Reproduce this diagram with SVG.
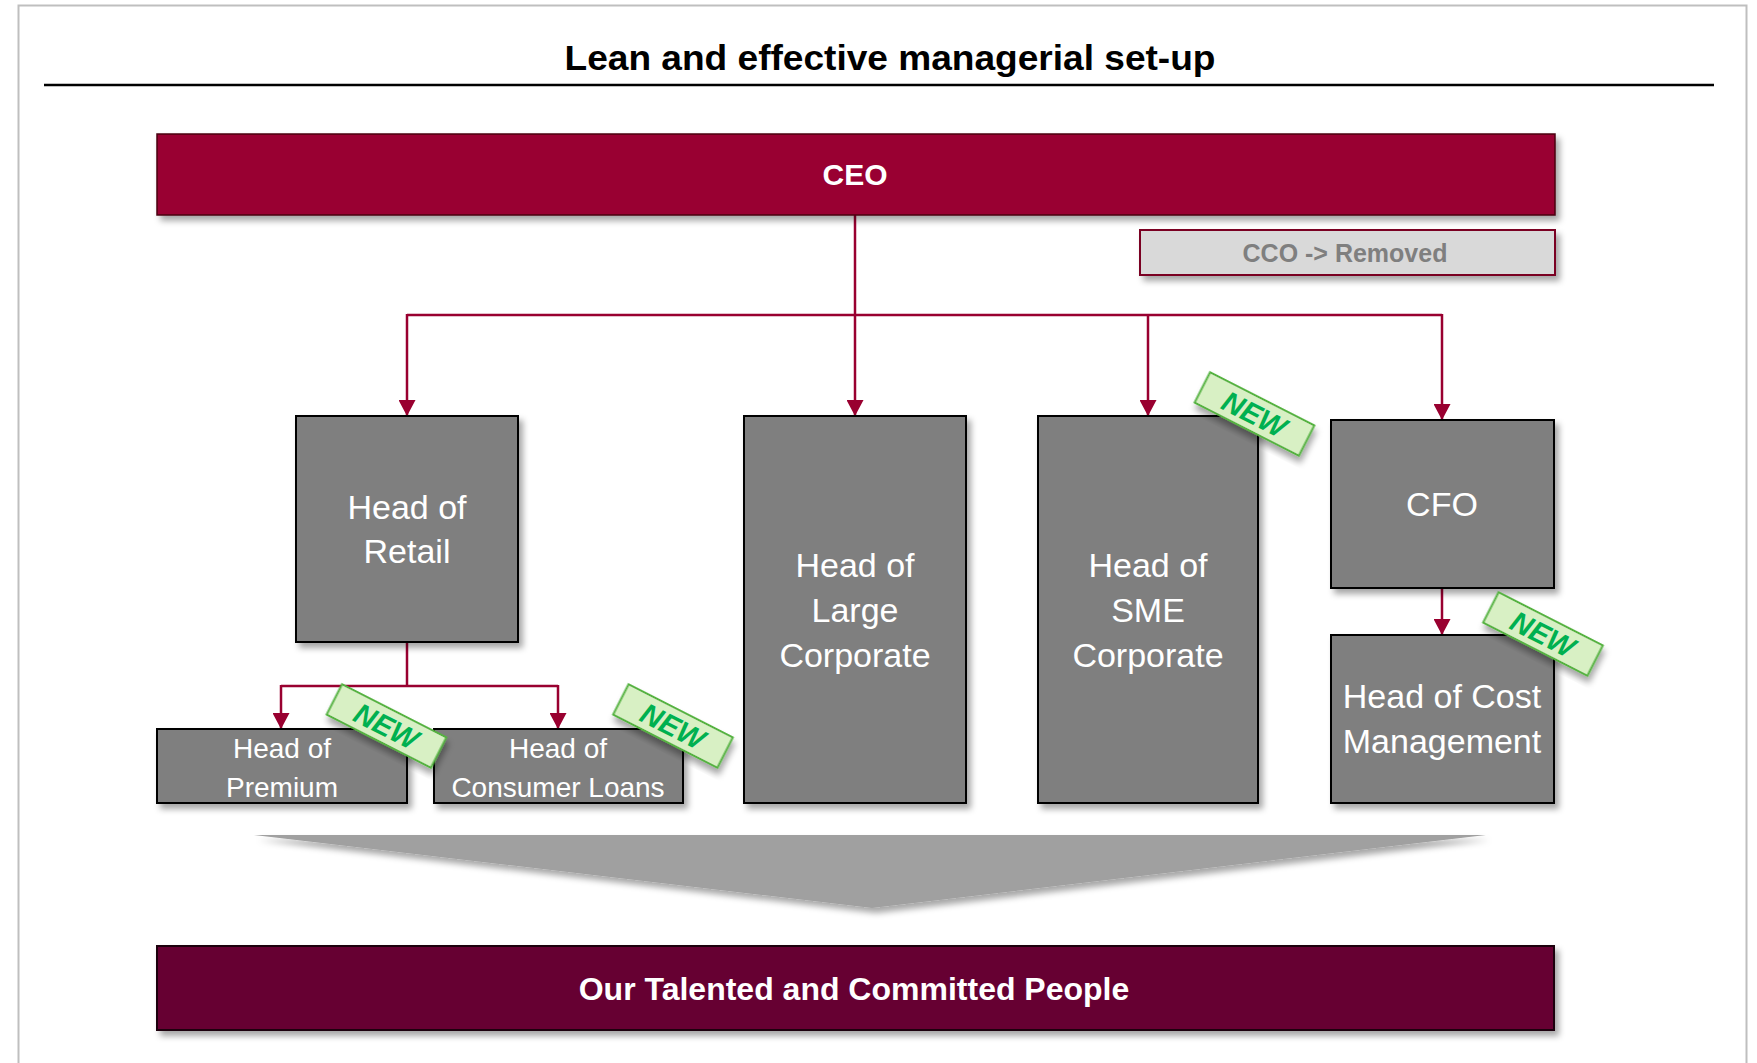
<svg xmlns="http://www.w3.org/2000/svg" width="1757" height="1063" viewBox="0 0 1757 1063">
  <defs>
    <filter id="shadow" x="-10%" y="-10%" width="130%" height="140%">
      <feDropShadow dx="4" dy="5" stdDeviation="3" flood-color="#000" flood-opacity="0.35"/>
    </filter>
    <marker id="arrow" markerUnits="userSpaceOnUse" markerWidth="17" markerHeight="17" refX="16" refY="8.5" orient="auto">
      <path d="M0,0 L16,8.5 L0,17 z" fill="#990030"/>
    </marker>
    <style>
      .title { font-family: "Liberation Sans", Arial, sans-serif; font-weight: bold; font-size: 35px; fill: #000; }
      .box { fill: #7f7f7f; stroke: #000; stroke-width: 2; filter: url(#shadow); }
      .lbl { font-family: "Liberation Sans", Arial, sans-serif; font-size: 34px; fill: #fff; text-anchor: middle; }
      .lbl-s { font-family: "Liberation Sans", Arial, sans-serif; font-size: 28px; fill: #fff; text-anchor: middle; }
      .conn { fill: none; stroke: #990030; stroke-width: 2.5; }
      .tag rect { fill: #d8f0c4; stroke: #55b240; stroke-width: 2; filter: url(#shadow); }
      .tag text { font-family: "Liberation Sans", Arial, sans-serif; font-weight: bold; font-style: italic; font-size: 29px; fill: #00b050; text-anchor: middle; }
    </style>
  </defs>

  <rect x="0" y="0" width="1757" height="1063" fill="#fff"/>
  <path d="M18.5,1063 V5.5 H1746.5 V1063" fill="none" stroke="#bfbfbf" stroke-width="2"/>

  <g id="title">
    <text class="title" x="890" y="70" text-anchor="middle" textLength="651" lengthAdjust="spacingAndGlyphs">Lean and effective managerial set-up</text>
    <line x1="44" y1="85" x2="1714" y2="85" stroke="#000" stroke-width="2.5"/>
  </g>

  <g id="connectors">
    <line class="conn" x1="855" y1="215" x2="855" y2="416" marker-end="url(#arrow)"/>
    <line class="conn" x1="407" y1="315" x2="1442" y2="315"/>
    <line class="conn" x1="407" y1="314" x2="407" y2="416" marker-end="url(#arrow)"/>
    <line class="conn" x1="1148" y1="315" x2="1148" y2="416" marker-end="url(#arrow)"/>
    <line class="conn" x1="1442" y1="314" x2="1442" y2="420" marker-end="url(#arrow)"/>
    <line class="conn" x1="407" y1="642" x2="407" y2="686"/>
    <line class="conn" x1="281" y1="686" x2="558" y2="686"/>
    <line class="conn" x1="281" y1="685" x2="281" y2="729" marker-end="url(#arrow)"/>
    <line class="conn" x1="558" y1="685" x2="558" y2="729" marker-end="url(#arrow)"/>
    <line class="conn" x1="1442" y1="589" x2="1442" y2="635" marker-end="url(#arrow)"/>
  </g>

  <g id="ceo">
    <rect x="157" y="134" width="1398" height="81" fill="#990030" stroke="#4a0012" stroke-width="1.5" filter="url(#shadow)"/>
    <text x="855" y="185" font-family="Liberation Sans, Arial, sans-serif" font-weight="bold" font-size="30" fill="#fff" text-anchor="middle">CEO</text>
  </g>

  <g id="cco">
    <rect x="1140" y="230" width="415" height="45" fill="#d9d9d9" stroke="#7a0020" stroke-width="2" filter="url(#shadow)"/>
    <text x="1345" y="262" font-family="Liberation Sans, Arial, sans-serif" font-weight="bold" font-size="25" fill="#7f7f7f" text-anchor="middle">CCO -&gt; Removed</text>
  </g>

  <g id="head-retail">
    <rect class="box" x="296" y="416" width="222" height="226"/>
    <text class="lbl" x="407" y="519">Head of</text>
    <text class="lbl" x="407" y="563">Retail</text>
  </g>

  <g id="head-large-corporate">
    <rect class="box" x="744" y="416" width="222" height="387"/>
    <text class="lbl" x="855" y="577">Head of</text>
    <text class="lbl" x="855" y="622">Large</text>
    <text class="lbl" x="855" y="667">Corporate</text>
  </g>

  <g id="head-sme-corporate">
    <rect class="box" x="1038" y="416" width="220" height="387"/>
    <text class="lbl" x="1148" y="577">Head of</text>
    <text class="lbl" x="1148" y="622">SME</text>
    <text class="lbl" x="1148" y="667">Corporate</text>
  </g>

  <g id="cfo">
    <rect class="box" x="1331" y="420" width="223" height="168"/>
    <text class="lbl" x="1442" y="516">CFO</text>
  </g>

  <g id="head-cost-management">
    <rect class="box" x="1331" y="635" width="223" height="168"/>
    <text class="lbl" x="1442" y="708">Head of Cost</text>
    <text class="lbl" x="1442" y="753">Management</text>
  </g>

  <g id="head-premium">
    <rect class="box" x="157" y="729" width="250" height="74"/>
    <text class="lbl-s" x="282" y="758">Head of</text>
    <text class="lbl-s" x="282" y="797">Premium</text>
  </g>

  <g id="head-consumer-loans">
    <rect class="box" x="434" y="729" width="249" height="74"/>
    <text class="lbl-s" x="558" y="758">Head of</text>
    <text class="lbl-s" x="558" y="797">Consumer Loans</text>
  </g>

  <g id="new-badges">
    <g class="tag" transform="translate(386.5,726) rotate(27)">
      <rect x="-58.5" y="-17" width="117" height="34"/>
      <text x="0" y="10.5">NEW</text>
    </g>
    <g class="tag" transform="translate(673,726) rotate(27)">
      <rect x="-58.5" y="-17" width="117" height="34"/>
      <text x="0" y="10.5">NEW</text>
    </g>
    <g class="tag" transform="translate(1254.5,414) rotate(27)">
      <rect x="-58.5" y="-17" width="117" height="34"/>
      <text x="0" y="10.5">NEW</text>
    </g>
    <g class="tag" transform="translate(1543,634) rotate(27)">
      <rect x="-58.5" y="-17" width="117" height="34"/>
      <text x="0" y="10.5">NEW</text>
    </g>
  </g>

  <g id="chevron">
    <polygon points="254,835 1486,835 872,908" fill="#a0a0a0" filter="url(#shadow)"/>
  </g>

  <g id="people">
    <rect x="157" y="946" width="1397" height="84" fill="#660033" stroke="#1a000a" stroke-width="2" filter="url(#shadow)"/>
    <text x="854" y="1000" font-family="Liberation Sans, Arial, sans-serif" font-weight="bold" font-size="32" fill="#fff" text-anchor="middle">Our Talented and Committed People</text>
  </g>
</svg>
